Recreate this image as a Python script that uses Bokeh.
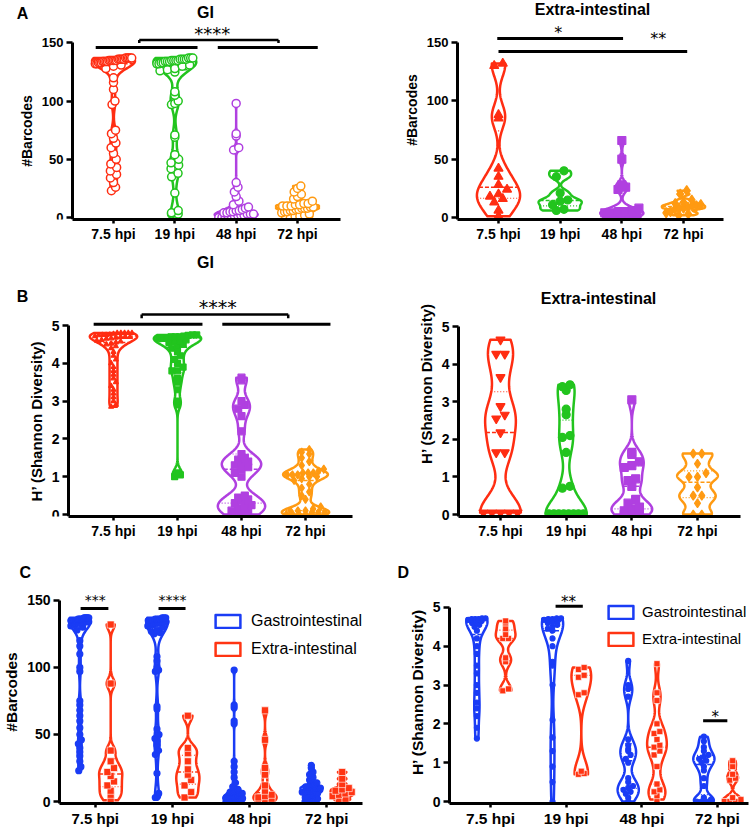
import numpy as np
from bokeh.plotting import figure
from bokeh.models import Range1d, FixedTicker, Label, Legend, LegendItem, Title
from bokeh.layouts import column, row
from bokeh.embed import file_html
from bokeh.resources import INLINE

FONT = "Liberation Sans"
STAR_FONT = "DejaVu Sans"
RED, GREEN, PURPLE, ORANGE = "#FF2D12", "#22C41E", "#B040E0", "#FF9A12"
BLUE, RED2 = "#1A3CF5", "#FF3412"

categories = ["7.5 hpi", "19 hpi", "48 hpi", "72 hpi"]
barcode_ticks = [0, 50, 100, 150]
shannon_ticks = [0, 1, 2, 3, 4, 5]

# ---- Panel A / C : GI #Barcodes
gi_bc_75 = [137, 137, 137, 137, 137, 136, 136, 136, 136, 136, 135, 135, 135, 135, 135, 135, 134, 134, 134,
            134, 133, 133, 133, 132, 132, 131, 130, 128, 120, 116, 110, 100, 97, 75, 72, 68, 64, 60, 55,
            50, 46, 43, 40, 37, 34, 30, 26, 23]
gi_bc_19 = [137, 137, 137, 136, 136, 136, 136, 135, 135, 135, 135, 134, 134, 134, 133, 133, 132, 132, 131,
            130, 128, 127, 126, 125, 108, 105, 100, 98, 97, 71, 69, 54, 50, 47, 45, 42, 38, 35, 21, 6, 4, 3, 3]
gi_bc_48 = [98, 72, 70, 60, 58, 30, 26, 22, 18, 14, 11, 9, 8, 7, 6, 6, 5, 5, 4, 4, 3, 3, 3, 2, 2, 2, 1, 1, 1, 0, 0, 0]
gi_bc_72 = [27, 25, 22, 20, 18, 16, 14, 12, 12, 11, 11, 10, 10, 10, 9, 9, 8, 8, 8, 7, 7, 6, 6, 5, 5, 4, 3, 2, 1, 1, 0, 0]

# ---- Panel A : Extra-intestinal #Barcodes
ei_bc_75 = [132, 130, 88, 85, 42, 35, 28, 24, 20, 18, 16, 13, 6, 1]
ei_bc_19 = [40, 35, 21, 15, 14, 11, 7, 6]
ei_bc_48 = [66, 50, 28, 26, 24, 8, 6, 5, 5, 4, 4, 3, 3, 2, 1, 0]
ei_bc_72 = [23, 20, 15, 13, 12, 11, 10, 10, 9, 8, 8, 7, 5, 4, 3, 2]

# ---- Panel C : Extra-intestinal #Barcodes
c_ei_75 = [132, 88, 38, 30, 25, 22, 19, 15, 12, 8, 5, 1]
c_ei_19 = [64, 40, 36, 30, 24, 20, 16, 12, 7, 3]
c_ei_48 = [68, 46, 25, 20, 12, 8, 5, 4, 3, 2, 1, 0]
c_ei_72 = [22, 17, 13, 10, 9, 8, 7, 6, 5, 4, 2, 1]

# ---- Panel B : GI Shannon
gi_h_75 = [4.8, 4.8, 4.8, 4.8, 4.8, 4.78, 4.76, 4.75, 4.75, 4.74, 4.72, 4.7, 4.7, 4.7, 4.68, 4.66, 4.65, 4.62,
           4.6, 4.58, 4.55, 4.52, 4.5, 4.45, 4.4, 4.3, 4.2, 4.1, 4.0, 3.9, 3.8, 3.7, 3.6, 3.5, 3.4, 3.3, 3.2,
           3.1, 3.0, 2.9, 2.85]
gi_h_19 = [4.75, 4.75, 4.74, 4.72, 4.7, 4.7, 4.7, 4.68, 4.66, 4.65, 4.62, 4.6, 4.58, 4.55, 4.5, 4.45, 4.4,
           4.3, 4.2, 4.1, 4.0, 3.9, 3.8, 3.8, 3.6, 3.5, 3.3, 3.0, 2.9, 1.1, 1.05, 1.0]
gi_h_48 = [3.62, 3.55, 3.0, 2.9, 2.8, 2.6, 2.2, 1.6, 1.5, 1.45, 1.4, 1.35, 1.3, 1.25, 1.2, 1.1, 1.0, 0.5,
           0.45, 0.4, 0.35, 0.3, 0.25, 0.2, 0.15, 0.1, 0.05, 0.0, 0.0]
gi_h_72 = [1.72, 1.65, 1.6, 1.5, 1.4, 1.3, 1.2, 1.15, 1.1, 1.1, 1.1, 1.05, 1.05, 1.05, 1.0, 1.0, 0.95, 0.9,
           0.8, 0.7, 0.6, 0.5, 0.4, 0.2, 0.15, 0.1, 0.1, 0.1, 0.05, 0.05, 0.05, 0.0, 0.0, 0.0, 0.0]

# ---- Panel B : Extra-intestinal Shannon
ei_h_75 = [4.65, 4.27, 4.27, 3.65, 2.88, 2.65, 2.55, 2.18, 1.65, 1.65, 0.05, 0.05, 0.05, 0.05, 0.05]
ei_h_19 = [3.45, 3.4, 3.3, 2.8, 2.65, 2.1, 2.05, 1.65, 0.75, 0.7, 0.02, 0.02, 0.02, 0.02, 0.02, 0.02, 0.02, 0.02]
ei_h_48 = [3.05, 1.65, 1.6, 1.4, 1.3, 1.25, 0.95, 0.9, 0.75, 0.4, 0.3, 0.2, 0.15, 0.1, 0.05, 0.05, 0.0]
ei_h_72 = [1.62, 1.62, 1.35, 1.1, 1.0, 1.0, 0.72, 0.5, 0.5, 0.3, 0.0, 0.0]

# ---- Panel D : Shannon, GI vs Extra-intestinal
d_gi_75 = [4.72, 4.72, 4.7, 4.7, 4.7, 4.68, 4.65, 4.62, 4.6, 4.55, 4.5, 4.4, 4.2, 4.0, 3.8, 3.5, 3.3, 3.0,
           2.8, 2.55, 2.4, 2.2, 1.9, 1.62]
d_ei_75 = [4.65, 4.6, 4.45, 4.3, 4.2, 4.2, 3.7, 3.6, 2.9, 2.85]
d_gi_19 = [4.72, 4.72, 4.7, 4.7, 4.68, 4.65, 4.62, 4.6, 4.55, 4.5, 4.45, 4.4, 4.2, 4.0, 3.6, 3.5, 3.0, 2.1,
           1.65, 1.3, 0.9, 0.5, 0.0]
d_ei_19 = [3.45, 3.4, 3.25, 3.2, 2.8, 2.75, 0.78, 0.72, 0.7]
d_gi_48 = [3.62, 3.0, 2.9, 2.7, 1.6, 1.45, 1.35, 1.3, 1.2, 1.1, 1.0, 0.6, 0.5, 0.4, 0.35, 0.3, 0.25, 0.2, 0.1, 0.0]
d_ei_48 = [3.55, 2.8, 2.6, 2.0, 1.8, 1.75, 1.6, 1.45, 1.4, 1.3, 1.2, 0.9, 0.45, 0.3, 0.25, 0.15, 0.05]
d_gi_72 = [1.67, 1.55, 1.4, 1.3, 1.2, 1.15, 1.1, 1.05, 1.0, 0.9, 0.8, 0.6, 0.4, 0.1, 0.05, 0.0, 0.0, 0.0]
d_ei_72 = [1.05, 0.9, 0.7, 0.6, 0.55, 0.1, 0.05, 0.0, 0.0, 0.0]

# ---- significance annotations (category units, data units)
a1_bars = [(0.71, 2.37, 146), (2.70, 4.33, 146)]
a1_bracket = (1.42, 3.69, 152.5, 150)
a1_stars = [(2.61, 158.5, "****")]
a2_bars = [(0.98, 3.02, 153.4), (1.0, 4.06, 142.3)]
a2_stars = [(1.97, 158.6, "*"), (3.59, 153.4, "**")]
b1_bars = [(0.69, 2.39, 5.03), (2.70, 4.39, 5.03)]
b1_bracket = (1.44, 3.73, 5.29, 5.19)
b1_stars = [(2.63, 5.48, "****")]
c_bars = [(0.81, 1.17, 144), (1.82, 2.17, 144)]
c_stars = [(1.0, 150, "***"), (2.0, 150, "****")]
d_bars = [(1.86, 2.22, 5.03), (3.81, 4.13, 2.08)]
d_stars = [(2.03, 5.13, "**"), (3.97, 2.18, "*")]


def silverman(v):
    n = len(v)
    sd = v.std(ddof=1)
    q75, q25 = np.percentile(v, [75, 25])
    s = min(sd, (q75 - q25) / 1.34) if q75 > q25 else sd
    return 0.9 * s * n ** -0.2


def profile(vals, adj):
    v = np.asarray(vals, float)
    bw = max(silverman(v) * adj, 1e-6)
    ys = np.linspace(v.min(), v.max(), 160)
    d = np.exp(-0.5 * ((ys[:, None] - v[None, :]) / bw) ** 2).sum(1)
    return ys, d / d.max()


def spread(vals, center, ys, hw, g, msize):
    v = np.sort(np.asarray(vals, float))
    bin_h = 0.9 * msize / g["sy"]
    step = 0.95 * msize / g["sx"]
    keys = np.floor(v / bin_h + 0.5)
    ox, oy = [], []
    for k in np.unique(keys):
        grp = v[keys == k]
        n = len(grp)
        lim = 0.85 * np.interp(grp.mean(), ys, hw)
        a = min(lim, (n - 1) * step / 2.0)
        offs = np.linspace(-a, a, n) if n > 1 else np.zeros(1)
        ox.extend(center + offs)
        oy.extend(grp)
    return ox, oy


def violin(p, g, vals, center, halfw, color, adj, marker, msize, fill, mline, mlw=1.2, lw=2.5):
    ys, d = profile(vals, adj)
    hw = halfw * d
    xs = np.concatenate([center + hw, (center - hw)[::-1]])
    yy = np.concatenate([ys, ys[::-1]])
    r = p.patch(xs, yy, fill_color="white", line_color=color, line_width=lw, line_join="round")
    q1, med, q3 = np.percentile(vals, [25, 50, 75])
    for q, dash, w in ((q1, "1 2", 1.2), (med, "4 2", 1.5), (q3, "1 2", 1.2)):
        h = np.interp(q, ys, hw)
        p.segment(x0=[center - h], y0=[q], x1=[center + h], y1=[q], line_color=color,
                  line_width=w, line_dash=dash)
    px, py = spread(vals, center, ys, hw, g, msize)
    p.scatter(px, py, marker=marker, size=msize, fill_color=fill, line_color=mline, line_width=mlw)
    return r


def make_panel(box, frame, xmap, ymap, yticks, ylabel, fs, free_left=False):
    fx, fy, fw, fh = box
    L, T, R, B = frame
    x1px, x4px = xmap
    y0px, ytop_px = ymap
    ytop = yticks[-1]
    sx = (x4px - x1px) / 3.0
    sy = (y0px - ytop_px) / ytop
    FL = fx if free_left else L
    xs = 1 - (x1px - FL) / sx
    xe = 4 + (R - x4px) / sx
    x_axis_at = 1 - (x1px - L) / sx
    ys = -(B - y0px) / sy
    ye = ytop + (ytop_px - T) / sy
    p = figure(width=fw, height=fh, x_range=Range1d(xs, xe), y_range=Range1d(ys, ye),
               output_backend="svg", toolbar_location=None, tools="", title=None,
               min_border_left=FL - fx, min_border_right=fx + fw - R,
               min_border_top=T - fy, min_border_bottom=fy + fh - B)
    p.xgrid.visible = False
    p.ygrid.visible = False
    p.outline_line_color = None
    p.background_fill_color = "white"
    p.border_fill_color = "white"
    p.xaxis.ticker = FixedTicker(ticks=[1, 2, 3, 4])
    p.xaxis.major_label_overrides = {i + 1: c for i, c in enumerate(categories)}
    p.yaxis.ticker = FixedTicker(ticks=yticks)
    p.yaxis.bounds = (ys, ytop)
    if free_left:
        p.yaxis.fixed_location = x_axis_at
        p.xaxis.bounds = (x_axis_at, xe)
    p.yaxis.axis_label = ylabel
    yfs, xfs, lfs = fs
    for ax, f in ((p.xaxis[0], xfs), (p.yaxis[0], yfs)):
        ax.axis_line_width = 3
        ax.axis_line_color = "black"
        ax.major_tick_line_width = 2.5
        ax.major_tick_line_color = "black"
        ax.major_tick_in = 0
        ax.minor_tick_line_color = None
        ax.major_label_text_font = FONT
        ax.major_label_text_font_size = f"{f}px"
        ax.major_label_text_font_style = "bold"
        ax.major_label_text_color = "black"
    p.xaxis.major_tick_out = 4
    p.xaxis.major_label_standoff = 2
    p.yaxis.major_tick_out = 6
    p.yaxis.major_label_standoff = 3
    p.yaxis.axis_label_text_font = FONT
    p.yaxis.axis_label_text_font_size = f"{lfs}px"
    p.yaxis.axis_label_text_font_style = "bold"
    p.yaxis.axis_label_text_color = "black"
    p.yaxis.axis_label_standoff = 4
    g = dict(sx=sx, sy=sy, x1=x1px, y0=y0px)
    return p, g


def page_label(p, g, px, py, text, size, bold=True, align="center"):
    x = 1 + (px - g["x1"]) / g["sx"]
    y = (g["y0"] - py) / g["sy"]
    p.add_layout(Label(x=x, y=y, text=text, text_font=FONT, text_font_size=f"{size}px",
                       text_font_style="bold" if bold else "normal",
                       text_align=align, text_baseline="middle", text_color="black"))


def letter_above(p, text, offset):
    p.add_layout(Title(text=text, align="left", offset=offset, standoff=0, text_font=FONT,
                       text_font_size="16px", text_font_style="bold", text_color="black"), "above")


def sig(p, g, bars, stars, fsize, bracket=None):
    p.segment(x0=[b[0] for b in bars], y0=[b[2] for b in bars], x1=[b[1] for b in bars],
              y1=[b[2] for b in bars], line_color="black", line_width=3)
    if bracket is not None:
        x0, x1, yt, yb = bracket
        p.segment(x0=[x0, x0, x1], y0=[yt, yt, yt], x1=[x1, x0, x1], y1=[yt, yb, yb],
                  line_color="black", line_width=2.5)
    for x, yc, t in stars:
        p.add_layout(Label(x=x, y=yc, text=t, text_font=STAR_FONT, text_font_size=f"{fsize}px",
                           text_align="center", text_baseline="middle", text_color="black"))


cols4 = [RED, GREEN, PURPLE, ORANGE]
HL = "H\u2019 (Shannon Diversity)"

# ---------------- Panel A left (GI)
pA1, gA1 = make_panel((0, 0, 375, 245), (72, 0, 340, 222), (113, 297), (220, 43),
                      barcode_ticks, "#Barcodes", (13, 14, 14), free_left=True)
for i, vals in enumerate([gi_bc_75, gi_bc_19, gi_bc_48, gi_bc_72]):
    violin(pA1, gA1, vals, i + 1, 0.35, cols4[i], 0.35, "circle", 8, "white", cols4[i], mlw=1.5)
sig(pA1, gA1, a1_bars, a1_stars, 18, a1_bracket)
page_label(pA1, gA1, 22, 13, "A", 16)
page_label(pA1, gA1, 205, 12, "GI", 16)

# ---------------- Panel A right (Extra-intestinal)
pA2, gA2 = make_panel((375, 0, 375, 245), (457, 0, 723, 219), (498, 683), (217, 42),
                      barcode_ticks, "#Barcodes", (13, 14, 14))
mk = [("triangle", 9), ("circle", 8), ("square", 8), ("diamond", 10)]
for i, vals in enumerate([ei_bc_75, ei_bc_19, ei_bc_48, ei_bc_72]):
    violin(pA2, gA2, vals, i + 1, 0.35, cols4[i], 0.45, mk[i][0], mk[i][1], cols4[i], cols4[i])
sig(pA2, gA2, a2_bars, a2_stars, 16)
page_label(pA2, gA2, 592, 9, "Extra-intestinal", 16)

# ---------------- Panel B left (GI)
pB1, gB1 = make_panel((0, 245, 375, 300), (68, 250, 352, 516), (113, 305), (514, 325),
                      shannon_ticks, HL, (14, 14, 15), free_left=True)
mk = [("triangle", 5), ("square", 6), ("square", 7), ("diamond", 8)]
for i, vals in enumerate([gi_h_75, gi_h_19, gi_h_48, gi_h_72]):
    violin(pB1, gB1, vals, i + 1, 0.37, cols4[i], 0.45, mk[i][0], mk[i][1], cols4[i], cols4[i])
sig(pB1, gB1, b1_bars, b1_stars, 19, b1_bracket)
page_label(pB1, gB1, 22, 296, "B", 16)
page_label(pB1, gB1, 205, 262, "GI", 16)

# ---------------- Panel B right (Extra-intestinal)
pB2, gB2 = make_panel((375, 245, 375, 300), (458, 250, 740, 516), (500, 697), (514, 326),
                      shannon_ticks, HL, (14, 14, 15))
mk = [("inverted_triangle", 9), ("circle", 8), ("square", 8), ("diamond", 9)]
for i, vals in enumerate([ei_h_75, ei_h_19, ei_h_48, ei_h_72]):
    violin(pB2, gB2, vals, i + 1, 0.31, cols4[i], 0.5, mk[i][0], mk[i][1], cols4[i], cols4[i])
page_label(pB2, gB2, 598, 298, "Extra-intestinal", 16)

# ---------------- Panel C
pC, gC = make_panel((0, 545, 375, 284), (57, 580, 362, 804), (93, 326), (802, 600),
                    barcode_ticks, "#Barcodes", (14, 15, 15.5))
rg = re = None
for i, (gv, ev) in enumerate(zip([gi_bc_75, gi_bc_19, gi_bc_48, gi_bc_72], [c_ei_75, c_ei_19, c_ei_48, c_ei_72])):
    r1 = violin(pC, gC, gv, i + 1 - 0.2, 0.14, BLUE, 0.35, "circle", 6, BLUE, BLUE)
    r2 = violin(pC, gC, ev, i + 1 + 0.2, 0.15, RED2, 0.45, "square", 7, RED2, "white", mlw=0.6)
    if i == 0:
        rg, re = r1, r2
sig(pC, gC, c_bars, c_stars, 14)
letter_above(pC, "C", -40)
legC = Legend(items=[LegendItem(label="Gastrointestinal", renderers=[rg]),
                     LegendItem(label="Extra-intestinal", renderers=[re])],
              location=(153, 145), glyph_width=31, glyph_height=16, label_height=16, spacing=10,
              padding=0, margin=0, label_standoff=8, border_line_color=None, background_fill_alpha=0,
              label_text_font=FONT, label_text_font_size="16px", label_text_color="black")
pC.add_layout(legC)

# ---------------- Panel D
pD, gD = make_panel((375, 545, 375, 284), (449, 580, 748, 804), (490, 717), (802, 607),
                    shannon_ticks, HL, (14, 15.5, 15.5))
for i, (gv, ev) in enumerate(zip([d_gi_75, d_gi_19, d_gi_48, d_gi_72], [d_ei_75, d_ei_19, d_ei_48, d_ei_72])):
    r1 = violin(pD, gD, gv, i + 1 - 0.18, 0.14, BLUE, 0.45, "circle", 5, BLUE, BLUE)
    r2 = violin(pD, gD, ev, i + 1 + 0.2, 0.13, RED2, 0.45, "square", 6, RED2, "white", mlw=0.6)
    if i == 0:
        rg, re = r1, r2
sig(pD, gD, d_bars, d_stars, 15)
letter_above(pD, "D", -52)
legD = Legend(items=[LegendItem(label="Gastrointestinal", renderers=[rg]),
                     LegendItem(label="Extra-intestinal", renderers=[re])],
              location=(156, 156), glyph_width=31, glyph_height=16, label_height=16, spacing=10,
              padding=0, margin=0, label_standoff=6, border_line_color=None, background_fill_alpha=0,
              label_text_font=FONT, label_text_font_size="15px", label_text_color="black")
pD.add_layout(legD)

layout = column(row(pA1, pA2), row(pB1, pB2), row(pC, pD))
open("out.html", "w").write(file_html(layout, INLINE))
